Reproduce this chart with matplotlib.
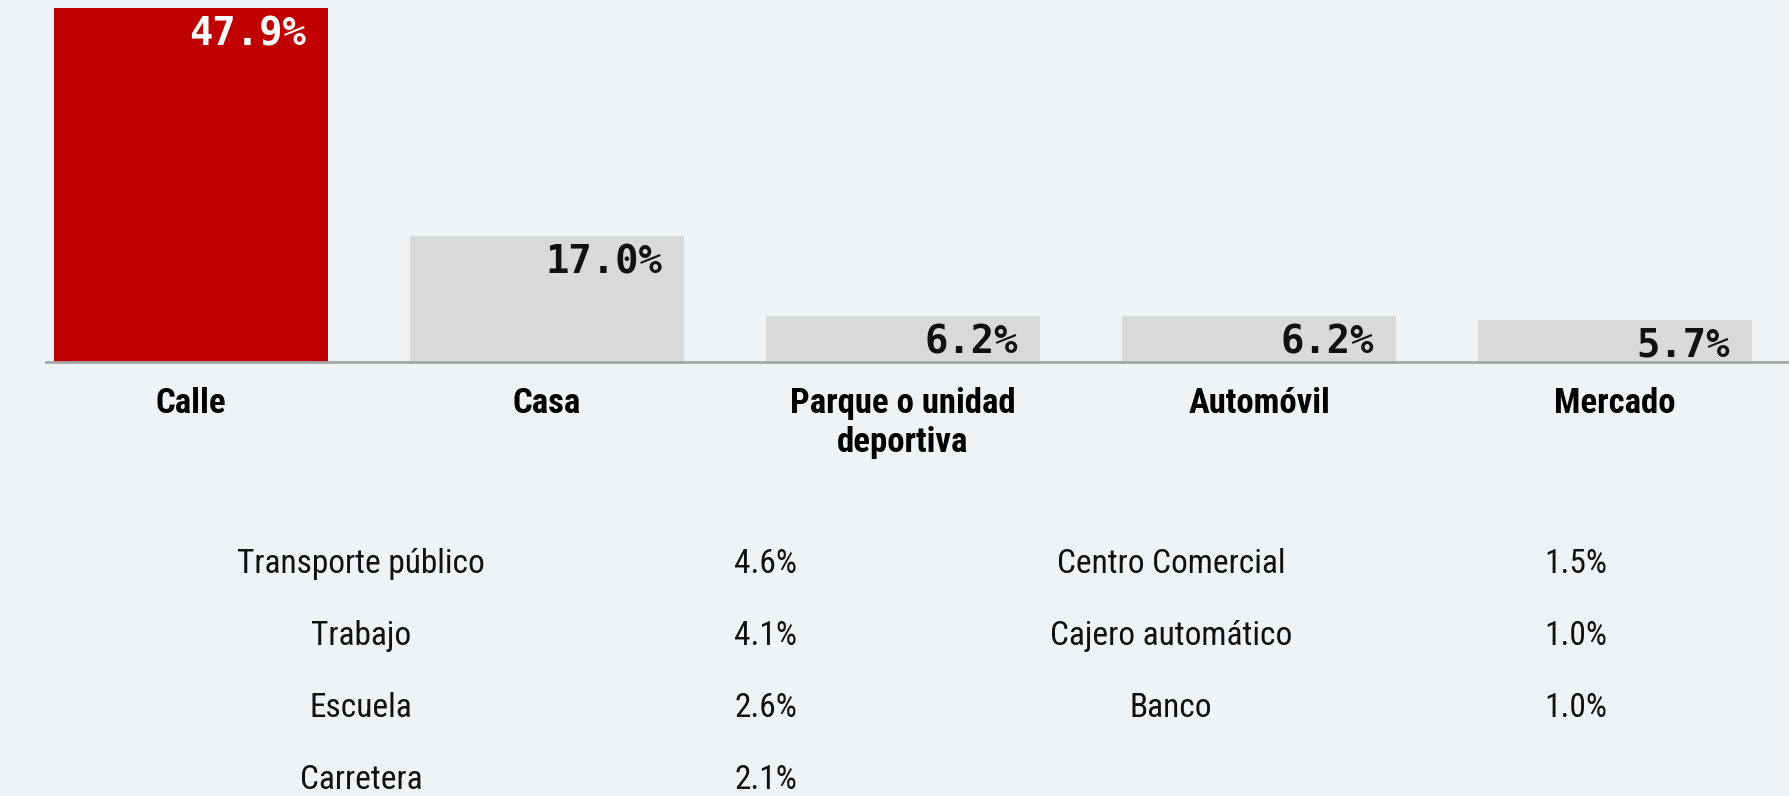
import matplotlib
matplotlib.use("Agg")

import matplotlib.pyplot as plt
import numpy as np

# top five places (bars)
categories = ["Calle", "Casa", "Parque o unidad\ndeportiva", "Automóvil", "Mercado"]
values = [47.9, 17.0, 6.2, 6.2, 5.7]
value_labels = ["47.9%", "17.0%", "6.2%", "6.2%", "5.7%"]

# remaining places (table below)
left_names = ["Transporte público", "Trabajo", "Escuela", "Carretera"]
left_values = ["4.6%", "4.1%", "2.6%", "2.1%"]
right_names = ["Centro Comercial", "Cajero automático", "Banco"]
right_values = ["1.5%", "1.0%", "1.0%"]

BG = "#eff3f6"
RED = "#c00000"
GRAY = "#d9d9d9"
LINE = "#a6a6a6"
NARROW = ["Roboto Condensed", "Liberation Sans Narrow", "DejaVu Sans"]

W, H, DPI = 1790, 796, 100
fig = plt.figure(figsize=(W / DPI, H / DPI), dpi=DPI, facecolor=BG)

# bar axes: baseline at 362 px from top, left edge of line at ~46 px
base_px = 362
ax = fig.add_axes([46 / W, (H - base_px) / H, 1 - 46 / W, base_px / H])
ax.set_facecolor("none")

x = np.arange(len(categories))
colors = [RED] + [GRAY] * (len(categories) - 1)
width = 0.77
bars = ax.bar(x, values, width=width, color=colors, zorder=2)

ax.set_xlim(-0.407, 4.491)
ax.set_ylim(0, 49.0)

for spine in ["top", "right", "left"]:
    ax.spines[spine].set_visible(False)
ax.spines["bottom"].set_color(LINE)
ax.spines["bottom"].set_linewidth(2)
ax.spines["bottom"].set_zorder(3)
ax.set_yticks([])
ax.set_xticks(x)
ax.set_xticklabels(categories, fontweight="bold", fontsize=25, family=NARROW,
                   linespacing=1.22)
ax.tick_params(axis="x", length=0, pad=18)

for i, (v, lab) in enumerate(zip(values, value_labels)):
    ax.annotate(lab, xy=(x[i] + width / 2, v), xytext=(-16, -5),
                textcoords="offset points", ha="right", va="top",
                fontsize=28, fontweight="bold", family="DejaVu Sans Mono",
                color="white" if i == 0 else "#111111", zorder=4)

# table of the other places
tab = fig.add_axes([0, 0, 1, 1])
tab.set_facecolor("none")
tab.axis("off")
tab.set_xlim(-0.891, 3.528)
tab.set_ylim(3.227, -7.844)

txt_kw = dict(ha="center", va="center", fontsize=24, family=NARROW, color="#111111")
for r, (n, v) in enumerate(zip(left_names, left_values)):
    tab.text(0, r, n, **txt_kw)
    tab.text(1, r, v, **txt_kw)
for r, (n, v) in enumerate(zip(right_names, right_values)):
    tab.text(2, r, n, **txt_kw)
    tab.text(3, r, v, **txt_kw)

plt.savefig("out.png", dpi=DPI, facecolor=BG)
